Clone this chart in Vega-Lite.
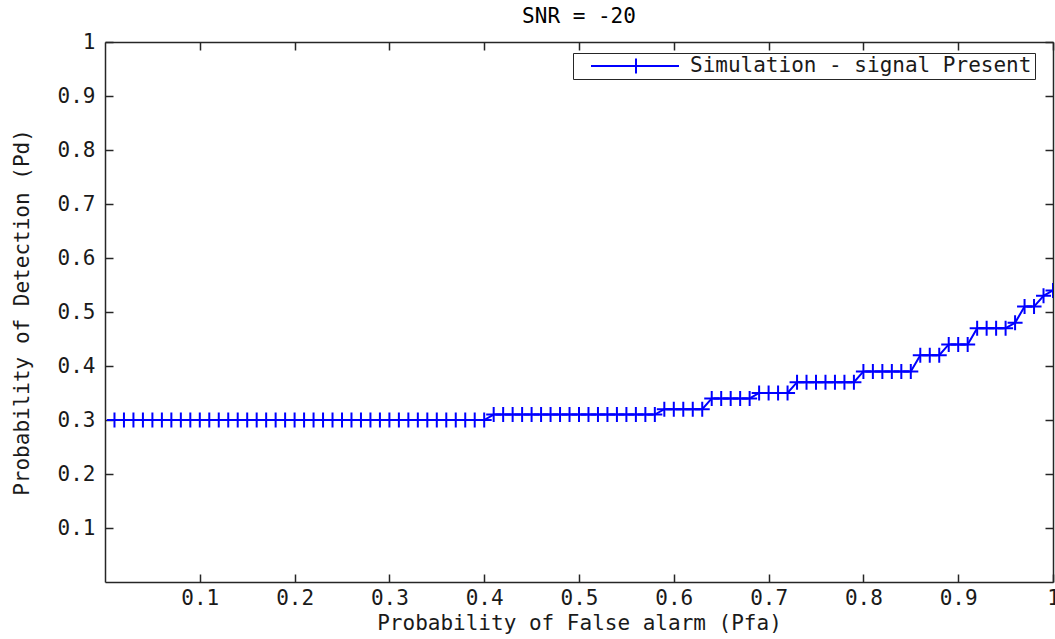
{
  "$schema": "https://vega.github.io/schema/vega-lite/v6.json",
  "width": 948,
  "height": 540,
  "autosize": {"type": "none"},
  "padding": {"left": 105, "top": 42, "right": 2, "bottom": 57},
  "background": "white",
  "title": {"text": "SNR = -20", "font": "DejaVu Sans Mono", "fontSize": 21, "fontWeight": "normal", "color": "black", "offset": 4, "anchor": "middle"},
  "config": {
    "view": {"stroke": null},
    "axis": {
      "grid": false,
      "domainColor": "#262626",
      "domainWidth": 1.5,
      "tickColor": "#262626",
      "tickWidth": 1.5,
      "tickSize": -8,
      "labelFont": "DejaVu Sans Mono",
      "labelFontSize": 21,
      "labelColor": "#1a1a1a",
      "titleFont": "DejaVu Sans Mono",
      "titleFontSize": 21,
      "titleFontWeight": "normal",
      "titleColor": "#1a1a1a"
    }
  },
  "data": {"values": [
    {"pfa": 0.01, "pd": 0.30}, {"pfa": 0.02, "pd": 0.30}, {"pfa": 0.03, "pd": 0.30}, {"pfa": 0.04, "pd": 0.30}, {"pfa": 0.05, "pd": 0.30},
    {"pfa": 0.06, "pd": 0.30}, {"pfa": 0.07, "pd": 0.30}, {"pfa": 0.08, "pd": 0.30}, {"pfa": 0.09, "pd": 0.30}, {"pfa": 0.10, "pd": 0.30},
    {"pfa": 0.11, "pd": 0.30}, {"pfa": 0.12, "pd": 0.30}, {"pfa": 0.13, "pd": 0.30}, {"pfa": 0.14, "pd": 0.30}, {"pfa": 0.15, "pd": 0.30},
    {"pfa": 0.16, "pd": 0.30}, {"pfa": 0.17, "pd": 0.30}, {"pfa": 0.18, "pd": 0.30}, {"pfa": 0.19, "pd": 0.30}, {"pfa": 0.20, "pd": 0.30},
    {"pfa": 0.21, "pd": 0.30}, {"pfa": 0.22, "pd": 0.30}, {"pfa": 0.23, "pd": 0.30}, {"pfa": 0.24, "pd": 0.30}, {"pfa": 0.25, "pd": 0.30},
    {"pfa": 0.26, "pd": 0.30}, {"pfa": 0.27, "pd": 0.30}, {"pfa": 0.28, "pd": 0.30}, {"pfa": 0.29, "pd": 0.30}, {"pfa": 0.30, "pd": 0.30},
    {"pfa": 0.31, "pd": 0.30}, {"pfa": 0.32, "pd": 0.30}, {"pfa": 0.33, "pd": 0.30}, {"pfa": 0.34, "pd": 0.30}, {"pfa": 0.35, "pd": 0.30},
    {"pfa": 0.36, "pd": 0.30}, {"pfa": 0.37, "pd": 0.30}, {"pfa": 0.38, "pd": 0.30}, {"pfa": 0.39, "pd": 0.30}, {"pfa": 0.40, "pd": 0.30},
    {"pfa": 0.41, "pd": 0.31}, {"pfa": 0.42, "pd": 0.31}, {"pfa": 0.43, "pd": 0.31}, {"pfa": 0.44, "pd": 0.31}, {"pfa": 0.45, "pd": 0.31},
    {"pfa": 0.46, "pd": 0.31}, {"pfa": 0.47, "pd": 0.31}, {"pfa": 0.48, "pd": 0.31}, {"pfa": 0.49, "pd": 0.31}, {"pfa": 0.50, "pd": 0.31},
    {"pfa": 0.51, "pd": 0.31}, {"pfa": 0.52, "pd": 0.31}, {"pfa": 0.53, "pd": 0.31}, {"pfa": 0.54, "pd": 0.31}, {"pfa": 0.55, "pd": 0.31},
    {"pfa": 0.56, "pd": 0.31}, {"pfa": 0.57, "pd": 0.31}, {"pfa": 0.58, "pd": 0.31},
    {"pfa": 0.59, "pd": 0.32}, {"pfa": 0.60, "pd": 0.32}, {"pfa": 0.61, "pd": 0.32}, {"pfa": 0.62, "pd": 0.32}, {"pfa": 0.63, "pd": 0.32},
    {"pfa": 0.64, "pd": 0.34}, {"pfa": 0.65, "pd": 0.34}, {"pfa": 0.66, "pd": 0.34}, {"pfa": 0.67, "pd": 0.34}, {"pfa": 0.68, "pd": 0.34},
    {"pfa": 0.69, "pd": 0.35}, {"pfa": 0.70, "pd": 0.35}, {"pfa": 0.71, "pd": 0.35}, {"pfa": 0.72, "pd": 0.35},
    {"pfa": 0.73, "pd": 0.37}, {"pfa": 0.74, "pd": 0.37}, {"pfa": 0.75, "pd": 0.37}, {"pfa": 0.76, "pd": 0.37}, {"pfa": 0.77, "pd": 0.37},
    {"pfa": 0.78, "pd": 0.37}, {"pfa": 0.79, "pd": 0.37},
    {"pfa": 0.80, "pd": 0.39}, {"pfa": 0.81, "pd": 0.39}, {"pfa": 0.82, "pd": 0.39}, {"pfa": 0.83, "pd": 0.39}, {"pfa": 0.84, "pd": 0.39},
    {"pfa": 0.85, "pd": 0.39},
    {"pfa": 0.86, "pd": 0.42}, {"pfa": 0.87, "pd": 0.42}, {"pfa": 0.88, "pd": 0.42},
    {"pfa": 0.89, "pd": 0.44}, {"pfa": 0.90, "pd": 0.44}, {"pfa": 0.91, "pd": 0.44},
    {"pfa": 0.92, "pd": 0.47}, {"pfa": 0.93, "pd": 0.47}, {"pfa": 0.94, "pd": 0.47}, {"pfa": 0.95, "pd": 0.47},
    {"pfa": 0.96, "pd": 0.48},
    {"pfa": 0.97, "pd": 0.51}, {"pfa": 0.98, "pd": 0.51},
    {"pfa": 0.99, "pd": 0.53},
    {"pfa": 1.00, "pd": 0.54}
  ]},
  "layer": [
    {
      "mark": {"type": "line", "strokeWidth": 2, "clip": true},
      "encoding": {
        "x": {"field": "pfa", "type": "quantitative", "scale": {"domain": [0, 1]},
              "axis": {"orient": "bottom", "title": "Probability of False alarm (Pfa)", "values": [0.1,0.2,0.3,0.4,0.5,0.6,0.7,0.8,0.9,1], "format": "~g", "labelPadding": 13, "titlePadding": 4, "labelFlush": false}},
        "y": {"field": "pd", "type": "quantitative", "scale": {"domain": [0, 1]},
              "axis": {"orient": "left", "title": "Probability of Detection (Pd)", "values": [0.1,0.2,0.3,0.4,0.5,0.6,0.7,0.8,0.9,1], "format": "~g", "labelPadding": 18, "titlePadding": 25, "labelFlush": false}},
        "color": {"datum": "Simulation - signal Present", "type": "nominal", "scale": {"range": ["#0000ff"]},
                  "legend": {"orient": "none", "legendX": 468, "legendY": 11, "title": null,
                             "symbolType": "M-0.725,0H1M0.157,-0.147V0.147", "symbolSize": 10404,
                             "symbolStrokeWidth": 2, "symbolStrokeColor": "#0000ff", "symbolFillColor": "transparent",
                             "clipHeight": 20, "labelFont": "DejaVu Sans Mono", "labelFontSize": 21, "labelColor": "#1a1a1a",
                             "labelOffset": 10, "labelLimit": 0, "padding": 3, "strokeColor": "#262626", "fillColor": "white"}}
      }
    },
    {
      "mark": {"type": "point", "shape": "M-1,0H1M0,-1V1", "size": 225, "filled": false, "color": "#0000ff", "strokeWidth": 2, "opacity": 1, "clip": true},
      "encoding": {
        "x": {"field": "pfa", "type": "quantitative", "axis": null},
        "y": {"field": "pd", "type": "quantitative", "axis": null}
      }
    },
    {
      "mark": {"type": "line", "opacity": 0},
      "encoding": {
        "x": {"field": "pfa", "type": "quantitative",
              "axis": {"orient": "top", "title": null, "labels": false, "values": [0.1,0.2,0.3,0.4,0.5,0.6,0.7,0.8,0.9,1]}},
        "y": {"field": "pd", "type": "quantitative",
              "axis": {"orient": "right", "title": null, "labels": false, "values": [0.1,0.2,0.3,0.4,0.5,0.6,0.7,0.8,0.9,1]}}
      }
    }
  ],
  "resolve": {"axis": {"x": "independent", "y": "independent"}}
}
